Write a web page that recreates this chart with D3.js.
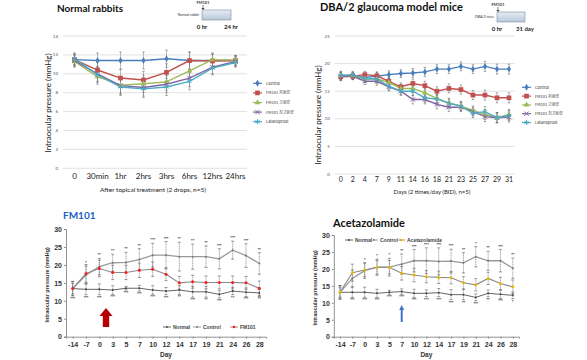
<!DOCTYPE html>
<html>
<head>
<meta charset="utf-8">
<script src="https://cdn.jsdelivr.net/npm/d3@7"></script>
<style>
body { margin: 0; background: #fff; }
svg { display: block; }
</style>
</head>
<body>
<div id="canvas"></div>
<script>
// ---- top left: normal rabbits ----
var rabbitTimes = ["0", "30min", "1hr", "2hrs", "3hrs", "6hrs", "12hrs", "24hrs"];
var rabbitControl = [11.5, 11.4, 11.4, 11.4, 11.6, 11.4, 11.4, 11.4];
var rabbitLow = [11.5, 10.4, 9.55, 9.35, 10.15, 11.4, 11.35, 11.4];
var rabbitHigh = [11.3, 9.7, 8.8, 8.95, 9.15, 10.3, 11.5, 11.45];
var rabbitTop = [11.4, 10.0, 8.75, 8.55, 8.9, 9.55, 10.7, 11.3];
var rabbitLatano = [11.6, 9.9, 8.6, 8.4, 8.6, 9.2, 10.6, 11.2];
var rabbitErr = [0.6, 0.8, 0.9, 0.9, 0.9, 0.9, 0.7, 0.5];

// ---- top right: DBA/2 mice ----
var miceDays = ["0", "2", "4", "7", "9", "11", "14", "16", "18", "21", "23", "25", "27", "29", "31"];
var miceControl = [17.7, 17.8, 17.5, 17.7, 18.0, 18.2, 18.3, 18.5, 19.0, 19.0, 19.5, 19.0, 19.5, 19.0, 19.0];
var miceLow = [17.6, 17.7, 18.0, 17.8, 16.8, 15.8, 16.4, 16.0, 15.0, 15.5, 15.3, 14.3, 14.3, 13.8, 13.8];
var miceHigh = [17.8, 17.8, 17.2, 17.2, 16.6, 15.5, 15.5, 14.7, 13.7, 12.9, 12.3, 11.5, 10.8, 10.2, 10.8];
var miceTop = [17.7, 17.7, 16.8, 16.8, 15.8, 15.0, 13.5, 13.5, 12.6, 12.1, 12.1, 11.3, 10.4, 10.2, 10.3];
var miceLatano = [17.9, 18.0, 17.3, 17.2, 15.9, 15.0, 15.0, 13.8, 13.6, 12.8, 12.3, 11.0, 11.3, 10.2, 10.6];
var miceErr = [0.7, 0.6, 0.6, 0.7, 0.7, 0.7, 0.8, 0.8, 0.8, 0.8, 0.8, 0.8, 0.9, 0.9, 0.9];

var seriesNames = ["Control", "FM101 저용량", "FM101 고용량", "FM101 최고용량", "Latanoprost"];

// ---- bottom: FM101 / Acetazolamide ----
var studyDays = ["-14", "-7", "0", "3", "5", "7", "10", "12", "14", "17", "19", "21", "24", "26", "28"];
var fmNormal = [13.4, 13.2, 13.2, 13.0, 13.5, 13.5, 13.0, 12.7, 13.0, 12.5, 12.5, 11.8, 12.7, 12.4, 12.2];
var fmControl = [13.4, 17.2, 19.5, 20.6, 20.7, 21.5, 22.7, 22.7, 22.3, 22.3, 22.3, 21.7, 24.1, 22.6, 20.4];
var fmDrug = [13.4, 17.6, 19.0, 17.9, 17.9, 18.5, 18.8, 17.4, 15.0, 15.3, 15.1, 15.1, 15.1, 15.0, 13.5];
var fmNormalErr = [2.0, 1.5, 1.5, 1.2, 0.5, 0.8, 1.2, 1.0, 1.2, 1.5, 1.5, 1.0, 1.0, 1.2, 1.0];
var fmControlErr = [2.0, 2.5, 2.3, 2.4, 2.8, 3.0, 3.3, 3.8, 4.0, 3.5, 3.0, 2.8, 2.5, 3.3, 3.0];
var fmDrugErr = [1.5, 2.5, 2.3, 2.0, 2.0, 2.0, 2.0, 1.8, 1.8, 1.8, 1.8, 1.8, 1.8, 1.8, 2.0];
var fmSigTop = ["", "*", "**", "**", "**", "**", "***", "***", "**", "**", "**", "***", "***", "***", "**"];
var fmSigLow = ["***", "***", "***", "***", "***", "***", "***", "***", "**", "***", "**", "***", "**", "***", "**"];

var acNormal = [13.1, 13.1, 13.1, 12.8, 13.1, 13.3, 12.8, 12.8, 13.0, 12.4, 12.4, 11.6, 12.8, 12.5, 12.2];
var acControl = [13.1, 17.2, 19.5, 20.5, 20.5, 21.4, 22.4, 22.4, 22.2, 22.3, 21.8, 23.6, 22.4, 22.4, 20.2];
var acDrug = [13.1, 18.9, 19.7, 20.5, 20.5, 18.7, 18.2, 17.7, 17.5, 17.4, 15.9, 15.3, 17.2, 15.7, 14.7];
var acNormalErr = [2.0, 1.5, 1.5, 1.2, 0.6, 0.8, 1.2, 1.0, 1.2, 1.5, 1.5, 1.0, 1.0, 1.2, 1.0];
var acControlErr = [2.0, 2.5, 2.3, 2.4, 2.6, 3.0, 3.3, 3.8, 4.0, 3.5, 3.0, 3.0, 2.8, 3.3, 3.0];
var acDrugErr = [1.5, 2.5, 2.0, 2.0, 2.0, 2.0, 2.0, 1.8, 1.8, 1.8, 1.8, 1.8, 1.8, 1.8, 2.0];
var acSigTop = ["", "", "*", "*", "*", "**", "***", "***", "***", "***", "**", "*", "**", "***", "**"];
var acSigLow = ["", "***", "***", "***", "***", "***", "***", "***", "***", "***", "**", "***", "**", "***", "*"];

var excelColors = ["#4a7ebb", "#c0504d", "#9bbb59", "#8064a2", "#4bacc6"];
var symTimes = d3.symbolTimes || d3.symbolX || d3.symbolCross;
var symAst = d3.symbolAsterisk || d3.symbolCross;
var excelSymbols = [
    {type: d3.symbolDiamond, size: 14, fill: true},
    {type: d3.symbolSquare, size: 22, fill: true},
    {type: d3.symbolTriangle, size: 14, fill: true},
    {type: symTimes, size: 14, fill: false},
    {type: symAst, size: 16, fill: false}
];

var svg = d3.select("#canvas")
    .append("svg")
        .attr("width", 587)
        .attr("height", 360)
        .style("font-family", "Lato, 'Noto Sans', sans-serif");

function drawMarker(g, x, y, i) {
    var s = excelSymbols[i];
    g.append("path")
        .attr("d", d3.symbol().type(s.type).size(s.size)())
        .attr("transform", "translate(" + x + "," + y + ")")
        .attr("fill", s.fill ? excelColors[i] : "none")
        .attr("stroke", excelColors[i])
        .attr("stroke-width", s.fill ? 0 : 1);
}

function drawInset(boxX0, boxX1, top, topLabel, sideLabel, endLabel) {
    var g = svg.append("g");
    g.append("text").attr("x", boxX0 + 1).attr("y", top - 6).attr("text-anchor", "middle")
        .attr("font-size", "4px").attr("font-weight", "bold").attr("fill", "#333").text(topLabel);
    g.append("line").attr("x1", boxX0 + 1).attr("x2", boxX0 + 1).attr("y1", top - 5).attr("y2", top - 0.5)
        .attr("stroke", "#333").attr("stroke-width", 0.6);
    g.append("path").attr("d", "M" + (boxX0 - 0.5) + "," + (top - 2) + "L" + (boxX0 + 2.5) + "," + (top - 2) + "L" + (boxX0 + 1) + "," + top + "Z")
        .attr("fill", "#333");
    g.append("text").attr("x", boxX0 - 3).attr("y", top + 6).attr("text-anchor", "end")
        .attr("font-size", "3.5px").attr("fill", "#333").text(sideLabel);
    var grad = svg.append("defs").append("linearGradient")
        .attr("id", "grad" + boxX0).attr("x1", 0).attr("x2", 0).attr("y1", 0).attr("y2", 1);
    grad.append("stop").attr("offset", "0%").attr("stop-color", "#e6ecf3");
    grad.append("stop").attr("offset", "100%").attr("stop-color", "#b8c7d9");
    g.append("rect").attr("x", boxX0).attr("y", top).attr("width", boxX1 - boxX0).attr("height", 10)
        .attr("fill", "url(#grad" + boxX0 + ")").attr("stroke", "#7d8ea5").attr("stroke-width", 0.6);
    g.append("text").attr("x", boxX0).attr("y", top + 19).attr("text-anchor", "middle")
        .attr("font-size", "6px").attr("font-weight", "bold").attr("fill", "#222").text("0 hr");
    g.append("text").attr("x", boxX1).attr("y", top + 19).attr("text-anchor", "middle")
        .attr("font-size", "6px").attr("font-weight", "bold").attr("fill", "#222").text(endLabel);
}

function drawExcelPanel(p) {
    var g = svg.append("g");
    var xScale = d3.scalePoint().domain(p.xDomain).range(p.xRange).padding(0.5);
    var yScale = d3.scaleLinear().domain([0, p.yMax]).range(p.yRange);
    var yTicks = d3.range(0, p.yMax + 0.001, p.yStep);

    // grid
    g.selectAll(".grid").data(yTicks).enter().append("line")
        .attr("x1", p.xRange[0]).attr("x2", p.xRange[1])
        .attr("y1", function(d) { return yScale(d); })
        .attr("y2", function(d) { return yScale(d); })
        .attr("stroke", "#d9d9d9").attr("stroke-width", 0.8);
    g.selectAll(".ylab").data(yTicks).enter().append("text")
        .attr("x", p.xRange[0] - 5).attr("y", function(d) { return yScale(d) + 1.5; })
        .attr("text-anchor", "end").attr("font-size", "4.5px").attr("fill", "#555")
        .text(function(d) { return d; });
    g.selectAll(".xlab").data(p.xDomain).enter().append("text")
        .attr("x", function(d) { return xScale(d); }).attr("y", p.yRange[0] + p.xLabelDy)
        .attr("text-anchor", "middle").attr("font-size", p.xFont).attr("fill", "#222")
        .text(function(d) { return d; });
    g.append("text").attr("x", p.xTitleX).attr("y", p.xTitleY).attr("text-anchor", "middle")
        .attr("font-size", p.xTitleFont).attr("fill", "#222").text(p.xTitle);
    g.append("text")
        .attr("transform", "translate(" + p.yTitleX + "," + p.yTitleY + ") rotate(-90)")
        .attr("text-anchor", "middle").attr("font-size", "8px").attr("fill", "#222")
        .text("Intraocular pressure (mmHg)");

    // error bars
    p.series.forEach(function(vals) {
        vals.forEach(function(v, i) {
            var x = xScale(p.xDomain[i]);
            var e = p.err[i];
            g.append("line").attr("x1", x).attr("x2", x)
                .attr("y1", yScale(v - e)).attr("y2", yScale(v + e))
                .attr("stroke", "#777").attr("stroke-width", 0.5);
            [v - e, v + e].forEach(function(t) {
                g.append("line").attr("x1", x - 1.2).attr("x2", x + 1.2)
                    .attr("y1", yScale(t)).attr("y2", yScale(t))
                    .attr("stroke", "#666").attr("stroke-width", 0.6);
            });
        });
    });

    var line = d3.line()
        .x(function(d, i) { return xScale(p.xDomain[i]); })
        .y(function(d) { return yScale(d); });
    p.series.forEach(function(vals, k) {
        g.append("path").datum(vals).attr("d", line)
            .attr("fill", "none").attr("stroke", excelColors[k]).attr("stroke-width", 1.4);
    });
    p.series.forEach(function(vals, k) {
        vals.forEach(function(v, i) { drawMarker(g, xScale(p.xDomain[i]), yScale(v), k); });
    });

    // legend
    seriesNames.forEach(function(name, k) {
        var ly = p.legendY + k * p.legendStep;
        g.append("line").attr("x1", p.legendX).attr("x2", p.legendX + 9)
            .attr("y1", ly).attr("y2", ly).attr("stroke", excelColors[k]).attr("stroke-width", 1.2);
        drawMarker(g, p.legendX + 4.5, ly, k);
        g.append("text").attr("x", p.legendX + 13).attr("y", ly + 1.5)
            .attr("font-size", "4px").attr("fill", "#333")
            .style("font-family", "'Noto Sans CJK KR', 'Noto Sans', sans-serif")
            .text(name);
    });
}

function drawStudyPanel(p) {
    var g = svg.append("g").style("font-family", "'Liberation Sans', Arial, sans-serif");
    var xScale = d3.scalePoint().domain(studyDays).range(p.xRange).padding(0.5);
    var yScale = d3.scaleLinear().domain([0, 30]).range(p.yRange);

    var yAxis = d3.axisLeft(yScale).tickValues([0, 5, 10, 15, 20, 25, 30]).tickSize(2).tickPadding(2);
    var xAxis = d3.axisBottom(xScale).tickSize(2).tickPadding(3);

    g.append("g").attr("transform", "translate(" + p.xRange[0] + ",0)").call(yAxis);
    g.append("g").attr("transform", "translate(0," + p.yRange[0] + ")").call(xAxis);
    g.selectAll(".domain, .tick line").attr("stroke", "#777").attr("stroke-width", 0.8);
    g.selectAll(".tick text").attr("font-size", "7px").attr("font-weight", "bold")
        .attr("fill", "#333").style("font-family", "'Liberation Sans', Arial, sans-serif");

    g.append("text").attr("x", (p.xRange[0] + p.xRange[1]) / 2).attr("y", p.yRange[0] + 20)
        .attr("text-anchor", "middle").attr("font-size", "6.5px").attr("font-weight", "bold")
        .attr("fill", "#333").text("Day");
    g.append("text")
        .attr("transform", "translate(" + (p.xRange[0] - 17) + "," + ((p.yRange[0] + p.yRange[1]) / 2 + 2) + ") rotate(-90)")
        .attr("text-anchor", "middle").attr("font-size", "5.5px").attr("font-weight", "bold")
        .attr("fill", "#333").text("Intraocular pressure (mmHg)");
    g.append("text").attr("x", p.titleX).attr("y", p.titleY)
        .attr("font-size", p.titleSize).attr("font-weight", "bold").attr("fill", p.titleColor)
        .style("font-family", "Lato, 'Noto Sans', sans-serif").text(p.title);

    var groups = [
        {vals: p.normal, err: p.normalErr, line: "#555", dot: "#444", w: 0.9},
        {vals: p.control, err: p.controlErr, line: "#999", dot: "#777", w: 1.3},
        {vals: p.drug, err: p.drugErr, line: "#8a8a8a", dot: p.drugColor, w: 1.1}
    ];
    groups.forEach(function(gr) {
        gr.vals.forEach(function(v, i) {
            var x = xScale(studyDays[i]);
            g.append("line").attr("x1", x).attr("x2", x)
                .attr("y1", yScale(v - gr.err[i])).attr("y2", yScale(v + gr.err[i]))
                .attr("stroke", "#555").attr("stroke-width", 0.5).attr("stroke-dasharray", "1.2,0.5");
            [v - gr.err[i], v + gr.err[i]].forEach(function(t) {
                g.append("line").attr("x1", x - 1.5).attr("x2", x + 1.5)
                    .attr("y1", yScale(t)).attr("y2", yScale(t))
                    .attr("stroke", "#555").attr("stroke-width", 0.6);
            });
        });
    });
    var line = d3.line()
        .x(function(d, i) { return xScale(studyDays[i]); })
        .y(function(d) { return yScale(d); });
    groups.forEach(function(gr) {
        g.append("path").datum(gr.vals).attr("d", line)
            .attr("fill", "none").attr("stroke", gr.line).attr("stroke-width", gr.w);
    });
    groups.forEach(function(gr) {
        g.selectAll(null).data(gr.vals).enter().append("circle")
            .attr("cx", function(d, i) { return xScale(studyDays[i]); })
            .attr("cy", function(d) { return yScale(d); })
            .attr("r", gr.dot === "#444" || gr.dot === "#777" ? 1 : 1.5)
            .attr("fill", gr.dot);
    });

    // significance marks
    p.sigTop.forEach(function(s, i) {
        g.append("text").attr("x", xScale(studyDays[i])).attr("y", yScale(p.control[i] + p.controlErr[i]) - 2)
            .attr("text-anchor", "middle").attr("font-size", "4px").attr("font-weight", "bold")
            .attr("fill", "#444").text(s);
    });
    p.sigLow.forEach(function(s, i) {
        g.append("text").attr("x", xScale(studyDays[i])).attr("y", yScale(p.normal[i] - p.normalErr[i]) + 4)
            .attr("text-anchor", "middle").attr("font-size", "4px").attr("font-weight", "bold")
            .attr("fill", "#444").text(s);
    });

    // legend
    var items = [["Normal", "#555", "#444"], ["Control", "#999", "#777"], [p.drugName, "#8a8a8a", p.drugColor]];
    var lx = p.legendX;
    items.forEach(function(it, k) {
        g.append("line").attr("x1", lx).attr("x2", lx + 8).attr("y1", p.legendY).attr("y2", p.legendY)
            .attr("stroke", it[1]).attr("stroke-width", 0.9);
        g.append("circle").attr("cx", lx + 4).attr("cy", p.legendY).attr("r", k === 2 ? 1.3 : 0.9).attr("fill", it[2]);
        g.append("text").attr("x", lx + 10).attr("y", p.legendY + 1.8)
            .attr("font-size", "5px").attr("font-weight", "bold").attr("fill", "#444").text(it[0]);
        lx += p.legendGaps[k];
    });
    return xScale;
}

// ---------- top left ----------
svg.append("text").attr("x", 57).attr("y", 12).attr("font-size", "10px")
    .attr("font-weight", "bold").attr("fill", "#111").text("Normal rabbits");
drawInset(202, 231, 10, "FM101", "Normal rabbit", "24 hr");
drawExcelPanel({
    xDomain: rabbitTimes, xRange: [63, 247], yMax: 14, yStep: 2, yRange: [168.3, 36],
    series: [rabbitControl, rabbitLow, rabbitHigh, rabbitTop, rabbitLatano], err: rabbitErr,
    xLabelDy: 11, xFont: "8px", xTitle: "After topical treatment (2 drops, n=5)",
    xTitleX: 153, xTitleY: 192, xTitleFont: "6.5px", yTitleX: 51, yTitleY: 103,
    legendX: 253, legendY: 83.3, legendStep: 9.6
});

// ---------- top right ----------
svg.append("text").attr("x", 320).attr("y", 11).attr("font-size", "11px")
    .attr("font-weight", "bold").attr("fill", "#111").text("DBA/2 glaucoma model mice");
drawInset(497, 525, 12, "FM101", "DBA/2 mice", "31 day");
drawExcelPanel({
    xDomain: miceDays, xRange: [334.8, 515], yMax: 25, yStep: 5, yRange: [174, 36],
    series: [miceControl, miceLow, miceHigh, miceTop, miceLatano], err: miceErr,
    xLabelDy: 7.5, xFont: "7px", xTitle: "Days  (2 times/day (BID), n=5)",
    xTitleX: 432, xTitleY: 194, xTitleFont: "6px", yTitleX: 321, yTitleY: 115,
    legendX: 522, legendY: 87.3, legendStep: 8.8
});

// ---------- bottom left ----------
var xFm = drawStudyPanel({
    xRange: [66, 266], yRange: [336.7, 229],
    normal: fmNormal, control: fmControl, drug: fmDrug,
    normalErr: fmNormalErr, controlErr: fmControlErr, drugErr: fmDrugErr,
    sigTop: fmSigTop, sigLow: fmSigLow,
    drugName: "FM101", drugColor: "#ff1a1a",
    title: "FM101", titleX: 63, titleY: 219, titleColor: "#2160c4", titleSize: "10px",
    legendX: 163, legendY: 327, legendGaps: [30, 37, 0]
});
var arrowX = (xFm("0") + xFm("3")) / 2;
svg.append("path")
    .attr("d", "M" + arrowX + ",308 L" + (arrowX + 6.5) + ",316 L" + (arrowX + 3.2) + ",316 L" + (arrowX + 3.2) + ",327 L" +
        (arrowX - 3.2) + ",327 L" + (arrowX - 3.2) + ",316 L" + (arrowX - 6.5) + ",316 Z")
    .attr("fill", "#b40000");

// ---------- bottom right ----------
var xAc = drawStudyPanel({
    xRange: [333.8, 519], yRange: [336.7, 235],
    normal: acNormal, control: acControl, drug: acDrug,
    normalErr: acNormalErr, controlErr: acControlErr, drugErr: acDrugErr,
    sigTop: acSigTop, sigLow: acSigLow,
    drugName: "Acetazolamide", drugColor: "#e8b800",
    title: "Acetazolamide", titleX: 333, titleY: 227, titleColor: "#111", titleSize: "11px",
    legendX: 345, legendY: 240, legendGaps: [25, 27, 0]
});
svg.append("line").attr("x1", xAc("7")).attr("x2", xAc("7")).attr("y1", 309).attr("y2", 322)
    .attr("stroke", "#4472c4").attr("stroke-width", 2);
svg.append("path")
    .attr("d", "M" + xAc("7") + ",305 L" + (xAc("7") + 2.5) + ",310 L" + (xAc("7") - 2.5) + ",310 Z")
    .attr("fill", "#4472c4");
</script>
</body>
</html>
